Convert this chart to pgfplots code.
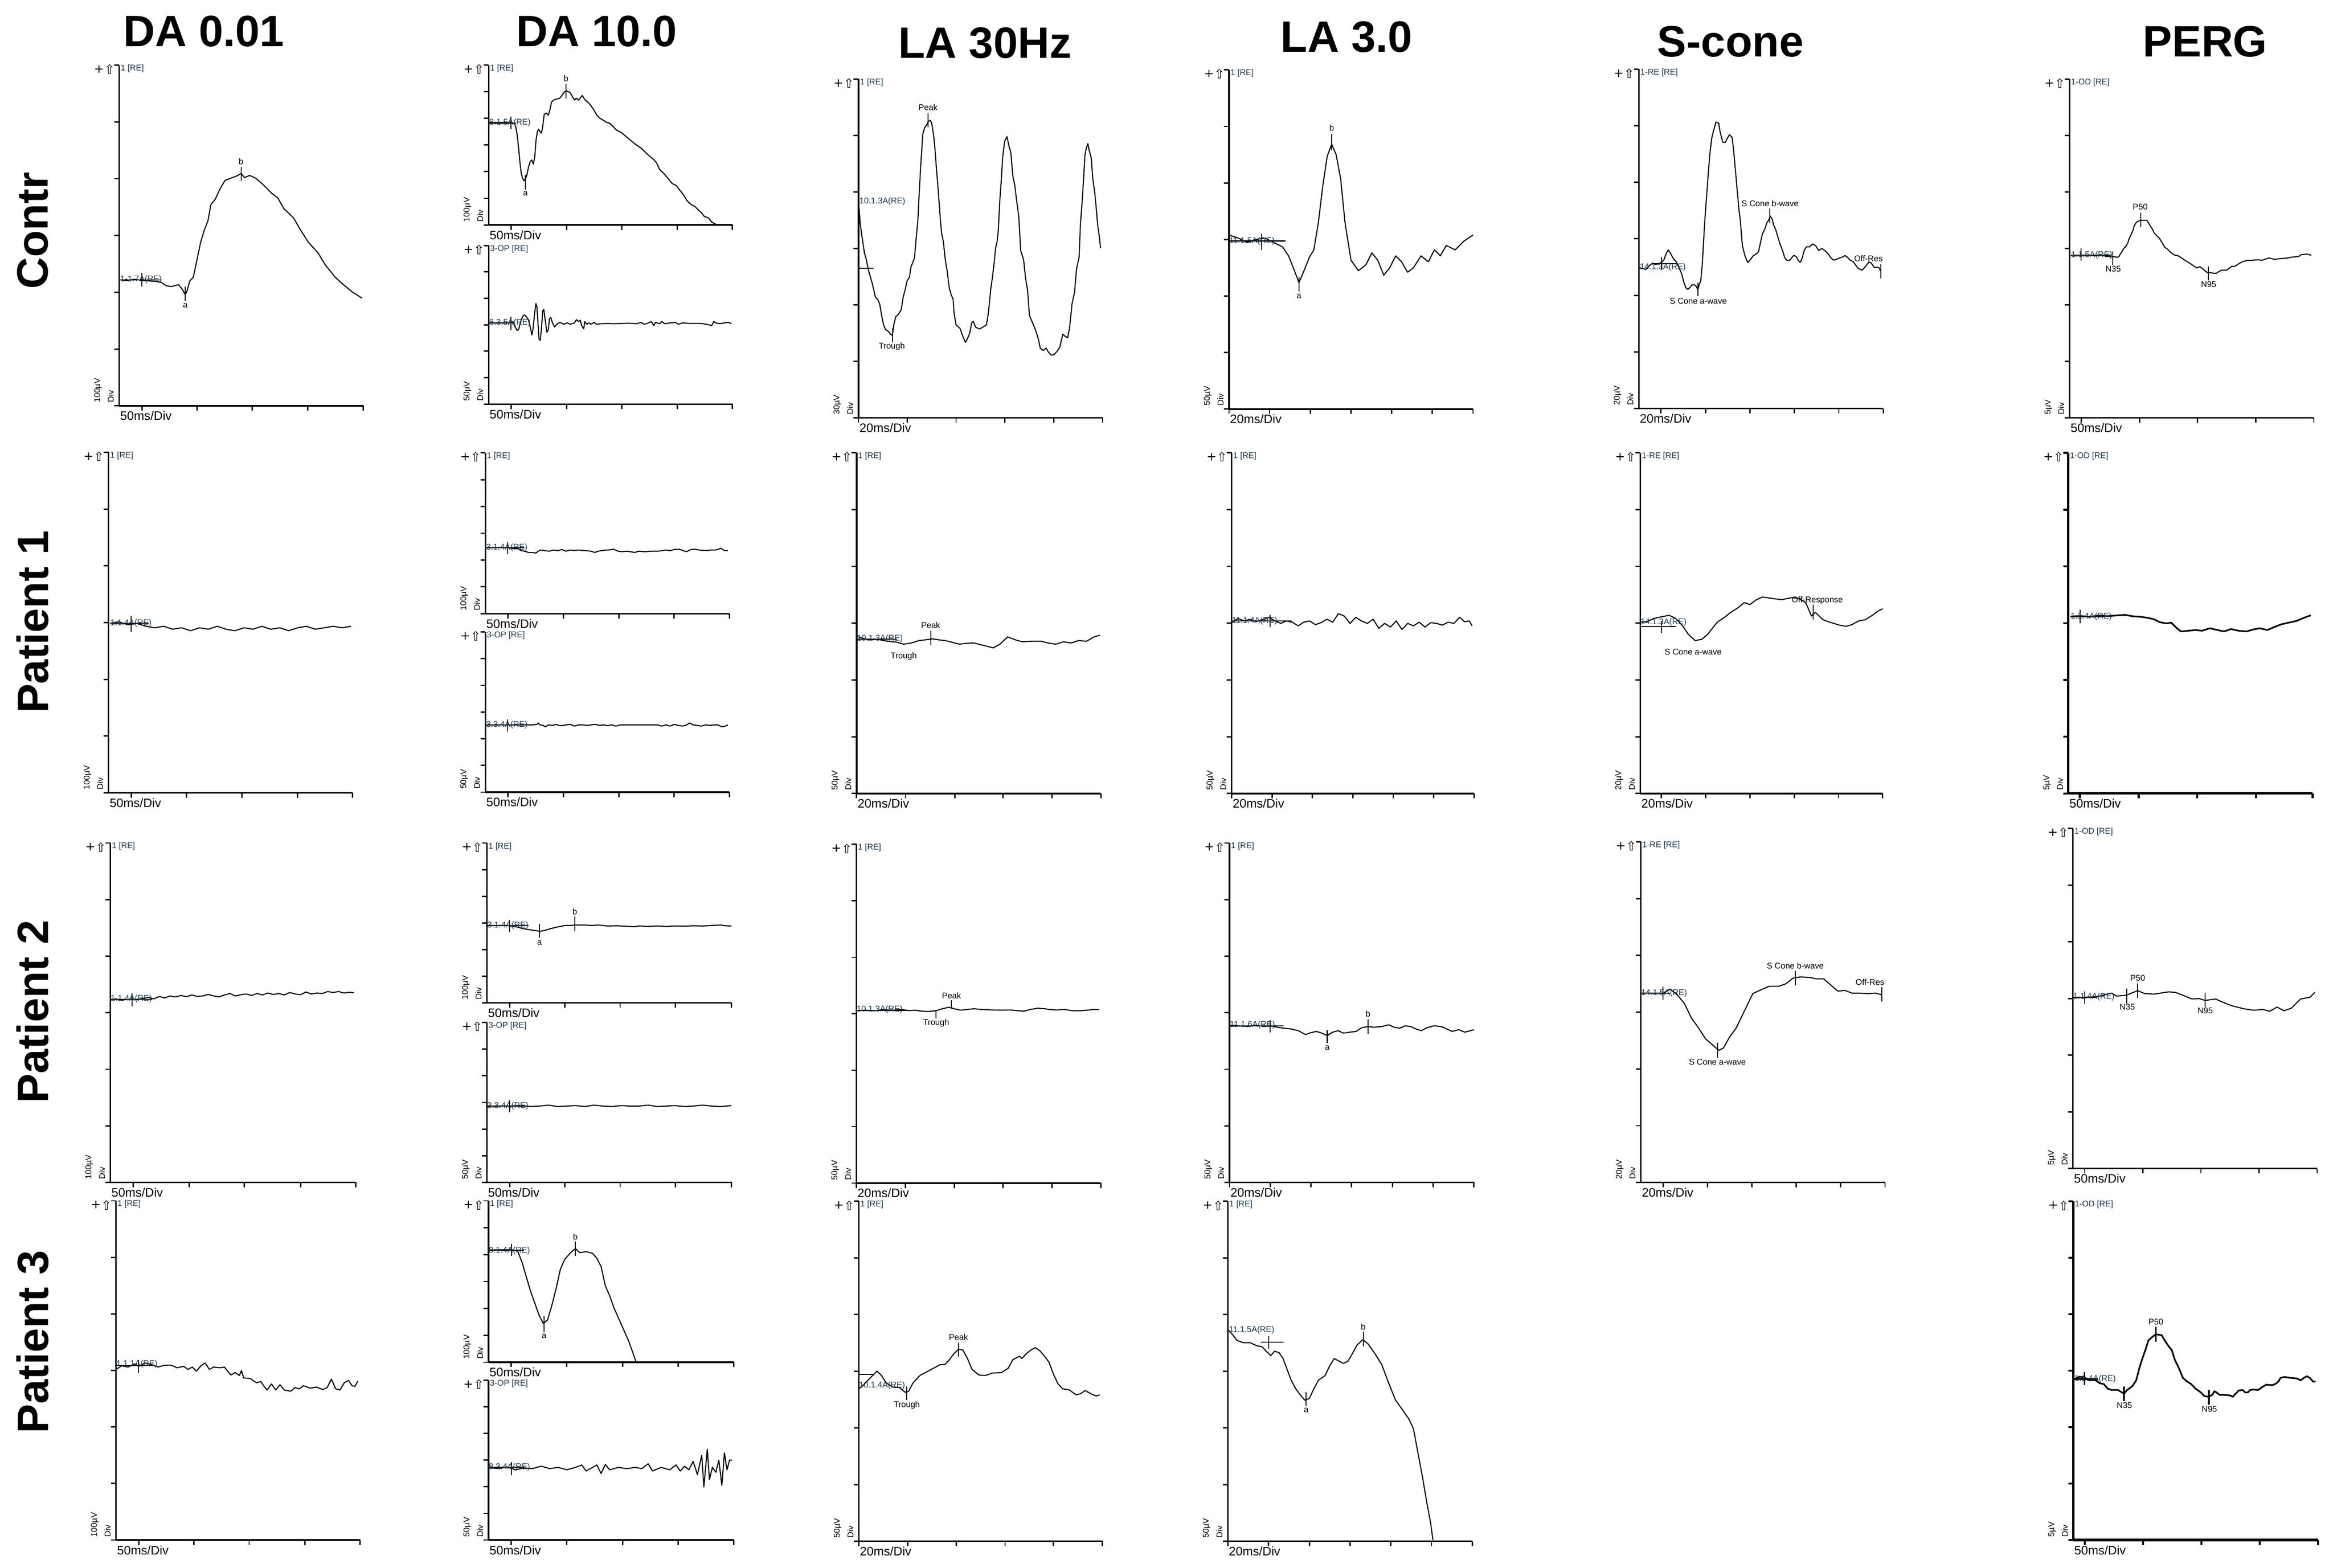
\documentclass[border=0pt]{standalone}
\usepackage{fontspec}
\setmainfont{Liberation Sans}
\newfontfamily\symf{DejaVu Sans}
\usepackage{pgfplots}
\pgfplotsset{compat=1.18}

% font sizes (1bp = one pixel of the 1568 px wide layout)
\newcommand\hf{\fontsize{5.6bp}{6.7bp}\selectfont}
\newcommand\df{\fontsize{8.3bp}{10bp}\selectfont}
\newcommand\tf{\fontsize{29.5bp}{32bp}\selectfont\bfseries}
\definecolor{tag}{HTML}{17364D}

\tikzset{
  lab/.style={font=\hf, inner sep=0pt, text=black},
  tagl/.style={font=\hf, inner sep=0pt, text=tag},
}
\pgfplotsset{
  erg/.style={scale only axis, anchor=south west, enlargelimits=false, clip=false,
    axis x line*=bottom, axis y line*=left, axis line style={-, line width=1.05bp},
    tick align=outside, major tick length=3.3bp, tick style={line width=0.9bp, black},
    xticklabel=\empty, yticklabel=\empty, scaled ticks=false},
  bold/.style={axis line style={-, line width=1.6bp}, tick style={line width=1.4bp, black}},
  tr/.style={black, line width=0.72bp, mark=none, line join=round},
  trb/.style={black, line width=1.1bp, mark=none, line join=round},
  mk/.style={black, line width=0.65bp, mark=none},
}

% header, unit labels and time base of one trace panel
\newcommand{\ergdeco}[3]{%
  \node[tagl, anchor=west, xshift=0.8bp, yshift=-2.3bp] at (rel axis cs:0,1) {#1};
  \node[font={\symf\fontsize{8bp}{9bp}\selectfont}, inner sep=0pt, xshift=-13.5bp, yshift=-2.8bp] at (rel axis cs:0,1) {+};
  \node[font={\symf\fontsize{8.5bp}{9bp}\selectfont}, inner sep=0pt, xshift=-6.5bp, yshift=-2.8bp] at (rel axis cs:0,1) {⇧};
  \node[lab, xshift=-11.5bp, yshift=2bp, rotate=90, anchor=south west] at (rel axis cs:0,0) {#2};
  \node[lab, xshift=-3.5bp, yshift=2bp, rotate=90, anchor=south west] at (rel axis cs:0,0) {Div};
  \node[font=\df, inner sep=0pt, anchor=north west, xshift=0.5bp, yshift=-3.5bp] at (rel axis cs:0,0) {#3};
}

\begin{document}
\begin{tikzpicture}[x=1bp, y=1bp]
\useasboundingbox (0,0) rectangle (1568,1054);

% column and row titles
\node[font=\tf] at (137,1033) {DA 0.01};
\node[font=\tf] at (401,1033) {DA 10.0};
\node[font=\tf] at (662,1025) {LA 30Hz};
\node[font=\tf] at (905,1029) {LA 3.0};
\node[font=\tf] at (1163,1026) {S-cone};
\node[font=\tf] at (1482,1026) {PERG};
\node[font=\tf, rotate=90] at (22,899) {Contr};
\node[font=\tf, rotate=90] at (22,636) {Patient 1};
\node[font=\tf, rotate=90] at (22,374) {Patient 2};
\node[font=\tf, rotate=90] at (22,152) {Patient 3};

% ================= Contr =================
\begin{axis}[erg, at={(80.1bp,781.2bp)}, width=164.1bp, height=229bp,
  xmin=487, xmax=1485, ymin=-1508, ymax=-242,
  xtick={580,806,1030,1258,1485}, ytick={-1508,-1297,-1086,-875,-664,-453,-242}]
\addplot[tr] coordinates {(490,-1040)(520,-1042)(550,-1038)(580,-1042)(610,-1044)(640,-1046)(660,-1050)(680,-1062)(700,-1065)(720,-1060)(730,-1058)(745,-1075)(757,-1095)(765,-1080)(775,-1045)(790,-1030)(805,-965)(820,-900)(835,-855)(850,-820)(862,-760)(880,-740)(900,-700)(920,-670)(935,-665)(950,-660)(965,-655)(985,-645)(1000,-660)(1020,-652)(1045,-662)(1080,-690)(1110,-718)(1135,-735)(1160,-775)(1200,-810)(1225,-850)(1260,-900)(1300,-940)(1330,-985)(1370,-1030)(1400,-1055)(1440,-1085)(1480,-1108)};
\addplot[mk] coordinates {(490,-1040)(660,-1040)};
\addplot[mk] coordinates {(580,-1015)(580,-1065)};
\addplot[mk] coordinates {(757,-1065)(757,-1118)};
\addplot[mk] coordinates {(985,-620)(985,-672)};
\node[lab] at (axis cs:757,-1135) {a};
\node[lab] at (axis cs:985,-600) {b};
\node[tagl, anchor=west] at (axis cs:490,-1038) {1-1.7A(RE)};
\ergdeco{1 [RE]}{100µV}{50ms/Div}
\end{axis}

\begin{axis}[erg, at={(328.4bp,902.8bp)}, width=163.9bp, height=107.4bp,
  xmin=228, xmax=1400, ymin=-836, ymax=-242,
  xtick={337,603,868,1134,1400}, ytick={-836,-737,-638,-539,-440,-341,-242}]
\addplot[tr] coordinates {(230,-455)(260,-455)(300,-455)(335,-455)(350,-458)(358,-470)(365,-500)(372,-550)(378,-600)(384,-640)(390,-660)(398,-672)(405,-665)(412,-650)(420,-620)(428,-600)(435,-595)(443,-610)(450,-580)(456,-520)(462,-490)(468,-480)(475,-490)(482,-495)(488,-470)(495,-425)(505,-420)(515,-428)(522,-410)(530,-380)(540,-372)(555,-368)(570,-365)(580,-355)(590,-343)(600,-338)(610,-340)(620,-345)(630,-358)(640,-372)(650,-365)(660,-372)(668,-365)(678,-355)(690,-370)(705,-380)(720,-393)(735,-410)(748,-428)(760,-438)(775,-445)(795,-455)(810,-458)(825,-470)(845,-485)(865,-492)(885,-505)(900,-515)(920,-528)(940,-540)(960,-550)(980,-565)(1000,-580)(1020,-592)(1035,-605)(1050,-630)(1070,-645)(1090,-663)(1110,-682)(1130,-690)(1150,-710)(1170,-730)(1180,-745)(1200,-760)(1220,-768)(1235,-780)(1250,-790)(1265,-805)(1285,-810)(1300,-825)(1315,-832)(1335,-838)};
\addplot[mk] coordinates {(335,-433)(335,-480)};
\addplot[mk] coordinates {(230,-458)(360,-458)};
\addplot[mk] coordinates {(405,-650)(405,-705)};
\addplot[mk] coordinates {(600,-312)(600,-366)};
\node[lab] at (axis cs:405,-720) {a};
\node[lab] at (axis cs:600,-292) {b};
\node[tagl, anchor=west] at (axis cs:230,-456) {8.1.5A(RE)};
\ergdeco{1 [RE]}{100µV}{50ms/Div}
\end{axis}

\begin{axis}[erg, at={(328.4bp,782.3bp)}, width=163.9bp, height=106.7bp,
  xmin=228, xmax=1400, ymin=-1502, ymax=-912,
  xtick={337,603,868,1134,1400}, ytick={-1502,-1403.7,-1305.3,-1207,-1108.7,-1010.3,-912}]
\addplot[tr] coordinates {(230,-1200)(270,-1200)(300,-1200)(320,-1200)(335,-1200)(345,-1195)(355,-1215)(365,-1228)(372,-1225)(382,-1195)(392,-1175)(400,-1170)(410,-1178)(420,-1190)(428,-1215)(436,-1245)(442,-1220)(448,-1170)(455,-1128)(460,-1140)(466,-1210)(470,-1260)(476,-1265)(482,-1220)(488,-1155)(493,-1150)(500,-1190)(508,-1235)(515,-1225)(520,-1185)(527,-1180)(535,-1200)(545,-1215)(555,-1205)(570,-1198)(590,-1205)(605,-1200)(620,-1205)(640,-1200)(650,-1188)(660,-1195)(668,-1190)(675,-1210)(685,-1222)(690,-1195)(700,-1205)(710,-1200)(720,-1205)(735,-1198)(745,-1205)(770,-1203)(800,-1202)(830,-1203)(870,-1202)(900,-1201)(940,-1203)(960,-1198)(975,-1205)(990,-1202)(1010,-1195)(1022,-1210)(1030,-1198)(1050,-1203)(1060,-1195)(1075,-1203)(1100,-1200)(1125,-1198)(1140,-1205)(1160,-1200)(1200,-1202)(1250,-1202)(1275,-1205)(1300,-1210)(1310,-1195)(1320,-1200)(1340,-1203)(1360,-1200)(1380,-1198)(1395,-1202)};
\addplot[mk] coordinates {(335,-1178)(335,-1228)};
\addplot[mk] coordinates {(230,-1200)(330,-1200)};
\node[tagl, anchor=west] at (axis cs:230,-1200) {8.3.5A(RE)};
\ergdeco{3-OP [RE]}{50µV}{50ms/Div}
\end{axis}

\begin{axis}[erg, at={(577bp,773.1bp)}, width=164bp, height=227.8bp,
  xmin=172, xmax=1418, ymin=-1550, ymax=-92,
  xtick={172,421,670,919,1169,1418}, ytick={-1550,-1307,-1064,-821,-578,-335,-92}]
\addplot[tr] coordinates {(175,-650)(180,-710)(188,-760)(195,-800)(202,-840)(212,-870)(220,-905)(228,-930)(240,-965)(250,-1000)(258,-1030)(270,-1040)(280,-1060)(290,-1110)(300,-1150)(310,-1170)(325,-1178)(335,-1190)(345,-1195)(352,-1150)(362,-1115)(375,-1105)(390,-1085)(400,-1030)(410,-1000)(420,-960)(432,-945)(440,-900)(450,-880)(458,-860)(465,-790)(475,-700)(482,-580)(490,-460)(500,-330)(510,-300)(520,-290)(528,-275)(538,-270)(545,-280)(555,-330)(562,-390)(570,-480)(578,-560)(585,-640)(590,-700)(597,-760)(605,-790)(615,-870)(625,-920)(635,-990)(645,-1020)(655,-1040)(660,-1100)(670,-1150)(690,-1165)(705,-1200)(718,-1225)(728,-1210)(740,-1185)(750,-1140)(758,-1135)(770,-1160)(790,-1168)(810,-1158)(825,-1150)(835,-1100)(848,-990)(855,-950)(865,-880)(872,-820)(880,-790)(886,-740)(893,-620)(900,-540)(908,-430)(918,-360)(930,-340)(940,-380)(950,-410)(960,-510)(970,-550)(980,-620)(990,-680)(1000,-830)(1015,-870)(1025,-950)(1035,-1000)(1045,-1110)(1060,-1140)(1075,-1170)(1090,-1210)(1100,-1250)(1115,-1260)(1130,-1250)(1140,-1265)(1155,-1280)(1170,-1278)(1185,-1265)(1200,-1245)(1215,-1190)(1228,-1200)(1240,-1205)(1250,-1160)(1262,-1060)(1275,-1010)(1285,-910)(1298,-860)(1305,-720)(1312,-640)(1320,-540)(1328,-420)(1335,-390)(1343,-370)(1350,-400)(1360,-430)(1368,-520)(1378,-580)(1385,-640)(1393,-720)(1400,-760)(1408,-820)};
\addplot[mk] coordinates {(175,-906)(248,-906)};
\addplot[mk] coordinates {(527,-240)(527,-300)};
\addplot[mk] coordinates {(345,-1165)(345,-1225)};
\node[lab] at (axis cs:527,-215) {Peak};
\node[lab] at (axis cs:342,-1243) {Trough};
\node[tagl, anchor=west] at (axis cs:175,-620) {10.1.3A(RE)};
\ergdeco{1 [RE]}{30µV}{20ms/Div}
\end{axis}

\begin{axis}[erg, at={(826bp,779bp)}, width=164bp, height=228bp,
  xmin=826, xmax=990, ymin=-275, ymax=-47,
  xtick={826,853.3,880.7,908,935.3,962.7,990}, ytick={-275,-237,-199,-161,-123,-85,-47}]
\addplot[tr] coordinates {(826,-158)(832,-160)(838,-163)(844,-161)(850,-160)(856,-163)(862,-166)(866,-172)(870,-182)(873,-190)(876,-183)(880,-173)(883,-168)(886,-150)(889,-125)(892,-105)(895,-97)(898,-104)(901,-120)(904,-150)(908,-175)(913,-182)(918,-178)(922,-170)(926,-175)(930,-185)(934,-180)(938,-172)(942,-176)(946,-183)(950,-180)(955,-172)(960,-176)(964,-168)(968,-172)(972,-165)(978,-168)(984,-162)(990,-158)};
\addplot[mk] coordinates {(826,-162)(864,-162)};
\addplot[mk] coordinates {(848,-157)(848,-168)};
\addplot[mk] coordinates {(873,-186)(873,-196)};
\addplot[mk] coordinates {(895,-90)(895,-101)};
\node[lab] at (axis cs:873,-199) {a};
\node[lab] at (axis cs:895,-86) {b};
\node[tagl, anchor=west] at (axis cs:826,-162) {11.1.5A(RE)};
\ergdeco{1 [RE]}{50µV}{20ms/Div}
\end{axis}

\begin{axis}[erg, at={(1101.4bp,779.4bp)}, width=164.4bp, height=228.1bp,
  xmin=224, xmax=1400, ymin=-1510, ymax=-50,
  xtick={331,545,759,972,1186,1400}, ytick={-1510,-1266.7,-1023.3,-780,-536.7,-293.3,-50}]
\addplot[tr] coordinates {(228,-905)(245,-908)(258,-912)(275,-895)(290,-885)(305,-890)(320,-888)(335,-880)(345,-870)(355,-845)(365,-828)(375,-840)(390,-865)(405,-880)(420,-910)(430,-930)(440,-965)(450,-990)(460,-998)(470,-990)(480,-978)(492,-978)(500,-985)(508,-998)(515,-975)(522,-960)(530,-880)(540,-720)(548,-620)(558,-500)(565,-420)(575,-345)(585,-310)(595,-278)(608,-282)(615,-320)(628,-365)(640,-365)(648,-350)(660,-332)(673,-345)(680,-400)(688,-480)(695,-550)(705,-650)(712,-700)(722,-810)(735,-855)(748,-882)(760,-870)(775,-852)(790,-845)(800,-835)(808,-800)(818,-760)(830,-738)(840,-710)(848,-700)(856,-682)(865,-695)(872,-720)(882,-740)(892,-770)(902,-800)(915,-830)(925,-860)(935,-872)(950,-872)(968,-852)(980,-855)(990,-872)(1000,-882)(1010,-862)(1020,-828)(1030,-815)(1045,-815)(1060,-802)(1075,-810)(1088,-830)(1105,-822)(1120,-832)(1135,-845)(1148,-862)(1160,-872)(1175,-868)(1190,-862)(1205,-858)(1215,-852)(1228,-860)(1240,-872)(1255,-878)(1268,-895)(1280,-908)(1298,-915)(1315,-898)(1330,-880)(1340,-883)(1355,-902)(1370,-902)(1380,-905)(1385,-918)};
\addplot[mk] coordinates {(333,-858)(333,-915)};
\addplot[mk] coordinates {(298,-886)(405,-886)};
\addplot[mk] coordinates {(508,-968)(508,-1028)};
\addplot[mk] coordinates {(853,-650)(853,-712)};
\addplot[mk] coordinates {(1387,-888)(1387,-950)};
\node[lab] at (axis cs:510,-1047) {S Cone a-wave};
\node[lab] at (axis cs:855,-628) {S Cone b-wave};
\node[lab] at (axis cs:1328,-865) {Off-Res};
\node[tagl, anchor=west] at (axis cs:228,-903) {14.1.3A(RE)};
\ergdeco{1-RE [RE]}{20µV}{20ms/Div}
\end{axis}

\begin{axis}[erg, at={(1390.9bp,773.1bp)}, width=164.2bp, height=227.8bp,
  xmin=272, xmax=1475, ymin=-1550, ymax=-92,
  xtick={329,616,902,1189,1475}, ytick={-1550,-1307,-1064,-821,-578,-335,-92}]
\addplot[tr] coordinates {(278,-850)(300,-850)(330,-850)(360,-850)(400,-852)(430,-850)(460,-855)(480,-858)(495,-856)(505,-860)(515,-856)(520,-848)(530,-835)(540,-820)(550,-812)(560,-795)(565,-780)(575,-762)(585,-742)(590,-725)(598,-712)(608,-705)(620,-700)(635,-700)(652,-700)(660,-710)(670,-725)(680,-738)(690,-756)(700,-765)(715,-778)(730,-800)(740,-815)(755,-825)(775,-842)(790,-850)(805,-852)(820,-860)(840,-872)(855,-880)(870,-888)(885,-898)(898,-905)(910,-900)(920,-903)(930,-910)(940,-918)(950,-925)(965,-925)(980,-928)(995,-928)(1005,-922)(1020,-915)(1045,-915)(1060,-905)(1070,-898)(1085,-898)(1100,-890)(1115,-882)(1125,-878)(1145,-873)(1170,-872)(1200,-870)(1220,-872)(1240,-866)(1255,-862)(1280,-868)(1310,-865)(1340,-863)(1370,-858)(1400,-856)(1412,-848)(1425,-847)(1440,-845)(1450,-848)(1462,-850)};
\addplot[mk] coordinates {(328,-820)(328,-875)};
\addplot[mk] coordinates {(278,-850)(480,-850)};
\addplot[mk] coordinates {(485,-835)(485,-893)};
\addplot[mk] coordinates {(622,-668)(622,-730)};
\addplot[mk] coordinates {(955,-898)(955,-958)};
\node[lab] at (axis cs:487,-910) {N35};
\node[lab] at (axis cs:620,-643) {P50};
\node[lab] at (axis cs:957,-975) {N95};
\node[tagl, anchor=west] at (axis cs:278,-850) {1.1.5A(RE)};
\ergdeco{1-OD [RE]}{5µV}{50ms/Div}
\end{axis}

% ================= Patient 1 =================
\begin{axis}[erg, at={(73bp,521bp)}, width=164bp, height=229bp,
  xmin=73, xmax=237, ymin=-533, ymax=-304,
  xtick={88.25,125.4,162.6,199.8,237}, ytick={-533,-494.8,-456.7,-418.5,-380.3,-342.2,-304}]
\addplot[tr] coordinates {(74,-419)(80,-418)(86,-420)(92,-419)(98,-421)(104,-422)(110,-421)(116,-423)(122,-422)(128,-424)(134,-422)(140,-423)(146,-421)(152,-423)(158,-424)(164,-422)(170,-423)(176,-421)(182,-423)(188,-422)(194,-424)(200,-422)(206,-421)(212,-423)(218,-422)(224,-421)(230,-422)(236,-421)};
\addplot[mk] coordinates {(88,-414)(88,-425)};
\addplot[mk] coordinates {(74,-419)(100,-419)};
\node[tagl, anchor=west] at (axis cs:74,-419) {1.1.4A(RE)};
\ergdeco{1 [RE]}{100µV}{50ms/Div}
\end{axis}

\begin{axis}[erg, at={(326.2bp,641.5bp)}, width=164.1bp, height=108.1bp,
  xmin=212, xmax=1386, ymin=-705, ymax=-48,
  xtick={321,588,854,1120,1386}, ytick={-705,-595.5,-486,-376.5,-267,-157.5,-48}]
\addplot[tr] coordinates {(215,-435)(260,-435)(320,-435)(350,-440)(370,-440)(385,-448)(400,-450)(420,-455)(440,-455)(455,-458)(465,-450)(480,-445)(500,-448)(520,-450)(540,-445)(560,-448)(580,-443)(600,-450)(620,-445)(640,-447)(660,-445)(680,-447)(700,-448)(720,-450)(738,-455)(755,-450)(775,-447)(800,-445)(830,-442)(850,-450)(870,-452)(890,-450)(910,-452)(930,-455)(950,-450)(980,-452)(1010,-450)(1040,-450)(1060,-448)(1080,-445)(1100,-448)(1120,-443)(1145,-442)(1165,-448)(1180,-452)(1200,-443)(1220,-442)(1240,-445)(1260,-447)(1280,-447)(1300,-445)(1320,-445)(1345,-438)(1360,-447)(1378,-448)};
\addplot[mk] coordinates {(320,-410)(320,-462)};
\addplot[mk] coordinates {(215,-435)(400,-435)};
\node[tagl, anchor=west] at (axis cs:215,-435) {3.1.4A(RE)};
\ergdeco{1 [RE]}{100µV}{50ms/Div}
\end{axis}

\begin{axis}[erg, at={(326.2bp,521.5bp)}, width=164.1bp, height=107.7bp,
  xmin=212, xmax=1386, ymin=-1435, ymax=-780,
  xtick={321,588,854,1120,1386}, ytick={-1435,-1325.8,-1216.7,-1107.5,-998.3,-889.2,-780}]
\addplot[tr] coordinates {(215,-1160)(260,-1160)(320,-1160)(350,-1160)(380,-1160)(420,-1160)(440,-1160)(460,-1158)(465,-1152)(475,-1160)(490,-1162)(500,-1168)(515,-1160)(535,-1162)(550,-1158)(565,-1162)(580,-1163)(600,-1160)(620,-1158)(640,-1165)(660,-1160)(680,-1160)(700,-1162)(720,-1160)(740,-1158)(760,-1162)(780,-1160)(800,-1163)(820,-1160)(840,-1165)(860,-1160)(900,-1160)(950,-1160)(1000,-1160)(1040,-1160)(1060,-1165)(1080,-1160)(1100,-1165)(1120,-1158)(1140,-1162)(1160,-1165)(1180,-1160)(1195,-1152)(1210,-1160)(1230,-1162)(1250,-1165)(1270,-1160)(1290,-1162)(1310,-1160)(1330,-1160)(1350,-1168)(1365,-1165)(1378,-1160)};
\addplot[mk] coordinates {(320,-1138)(320,-1188)};
\addplot[mk] coordinates {(215,-1160)(400,-1160)};
\node[tagl, anchor=west] at (axis cs:215,-1160) {3.3.4A(RE)};
\ergdeco{3-OP [RE]}{50µV}{50ms/Div}
\end{axis}

\begin{axis}[erg, at={(575.7bp,520.6bp)}, width=164.2bp, height=229bp,
  xmin=33, xmax=287, ymin=-1440, ymax=-48,
  xtick={33,84,135,185,236,287}, ytick={-1440,-1208,-976,-744,-512,-280,-48}]
\addplot[tr] coordinates {(35,-800)(45,-812)(55,-810)(65,-818)(75,-822)(82,-830)(90,-825)(98,-815)(105,-812)(112,-808)(118,-812)(125,-815)(132,-822)(140,-830)(148,-826)(155,-825)(162,-832)(168,-838)(175,-845)(182,-830)(190,-800)(198,-812)(205,-820)(215,-818)(225,-818)(232,-825)(240,-830)(248,-820)(256,-825)(264,-815)(272,-818)(280,-800)(286,-793)};
\addplot[mk] coordinates {(33,-810)(75,-810)};
\addplot[mk] coordinates {(110,-775)(110,-832)};
\node[lab] at (axis cs:110,-752) {Peak};
\node[lab] at (axis cs:82,-880) {Trough};
\node[tagl, anchor=west] at (axis cs:33,-808) {10.1.3A(RE)};
\ergdeco{1 [RE]}{50µV}{20ms/Div}
\end{axis}

\begin{axis}[erg, at={(827.8bp,520.6bp)}, width=162.9bp, height=229bp,
  xmin=423, xmax=675, ymin=-1440, ymax=-48,
  xtick={423,465,507,549,591,633,675}, ytick={-1440,-1208,-976,-744,-512,-280,-48}]
\addplot[tr] coordinates {(423,-740)(430,-725)(436,-735)(442,-728)(448,-738)(455,-730)(462,-720)(468,-735)(474,-745)(480,-735)(486,-740)(492,-755)(498,-740)(504,-735)(510,-750)(516,-742)(522,-728)(528,-740)(534,-705)(540,-715)(546,-745)(552,-720)(558,-735)(564,-745)(570,-728)(576,-765)(582,-745)(588,-760)(594,-735)(600,-770)(606,-745)(612,-755)(618,-740)(624,-760)(630,-742)(636,-745)(642,-752)(648,-740)(654,-745)(660,-720)(665,-738)(670,-735)(673,-755)};
\addplot[mk] coordinates {(463,-710)(463,-760)};
\addplot[mk] coordinates {(423,-735)(485,-735)};
\node[tagl, anchor=west] at (axis cs:423,-735) {11.1.4A(RE)};
\ergdeco{1 [RE]}{50µV}{20ms/Div}
\end{axis}

\begin{axis}[erg, at={(1102.4bp,520.6bp)}, width=162.9bp, height=229bp,
  xmin=848, xmax=1100, ymin=-1440, ymax=-48,
  xtick={870,916,962,1008,1054,1100}, ytick={-1440,-1208,-976,-744,-512,-280,-48}]
\addplot[tr] coordinates {(848,-740)(855,-738)(862,-725)(870,-718)(878,-712)(885,-725)(892,-755)(898,-790)(905,-815)(912,-810)(918,-790)(922,-770)(928,-740)(935,-722)(942,-700)(950,-680)(956,-660)(962,-668)(968,-650)(975,-637)(985,-643)(995,-648)(1005,-640)(1012,-642)(1020,-660)(1026,-715)(1030,-700)(1038,-730)(1045,-740)(1055,-752)(1062,-757)(1068,-750)(1075,-735)(1082,-730)(1090,-710)(1095,-695)(1100,-685)};
\addplot[mk] coordinates {(870,-735)(870,-785)};
\addplot[mk] coordinates {(848,-757)(885,-757)};
\addplot[mk] coordinates {(1028,-668)(1028,-730)};
\node[lab] at (axis cs:903,-862) {S Cone a-wave};
\node[lab] at (axis cs:1032,-650) {Off-Response};
\node[tagl, anchor=west] at (axis cs:848,-740) {14.1.3A(RE)};
\ergdeco{1-RE [RE]}{20µV}{20ms/Div}
\end{axis}

\begin{axis}[erg, bold, at={(1390.1bp,520.6bp)}, width=164.2bp, height=229bp,
  xmin=1293, xmax=1547, ymin=-1440, ymax=-48,
  xtick={1305,1366,1427,1488,1547}, ytick={-1440,-1208,-976,-744,-512,-280,-48}]
\addplot[trb] coordinates {(1295,-717)(1305,-715)(1315,-718)(1325,-713)(1335,-715)(1345,-712)(1352,-710)(1360,-716)(1368,-718)(1375,-722)(1382,-728)(1388,-740)(1395,-745)(1400,-742)(1405,-762)(1410,-778)(1418,-775)(1425,-772)(1432,-775)(1440,-765)(1448,-772)(1455,-778)(1462,-768)(1470,-775)(1478,-778)(1485,-770)(1492,-765)(1500,-772)(1507,-760)(1515,-748)(1522,-742)(1530,-735)(1538,-722)(1545,-712)};
\addplot[mk] coordinates {(1305,-690)(1305,-745)};
\addplot[mk] coordinates {(1295,-717)(1330,-717)};
\node[tagl, anchor=west] at (axis cs:1295,-717) {1.1.4A(RE)};
\ergdeco{1-OD [RE]}{5µV}{50ms/Div}
\end{axis}

% ================= Patient 2 =================
\begin{axis}[erg, at={(74.2bp,259.2bp)}, width=164.9bp, height=228.1bp,
  xmin=16, xmax=287, ymin=-1462, ymax=-75,
  xtick={41,103,164,226,287}, ytick={-1462,-1230.8,-999.7,-768.5,-537.3,-306.2,-75}]
\addplot[tr] coordinates {(16,-715)(22,-712)(28,-718)(34,-714)(40,-712)(46,-716)(52,-710)(58,-706)(64,-712)(70,-702)(76,-708)(82,-700)(88,-704)(94,-698)(100,-703)(106,-696)(112,-702)(118,-700)(124,-694)(130,-700)(136,-704)(142,-696)(148,-690)(154,-700)(160,-695)(166,-692)(172,-698)(178,-690)(184,-696)(190,-688)(196,-694)(202,-690)(208,-696)(214,-686)(220,-692)(226,-695)(232,-684)(238,-692)(244,-688)(250,-690)(256,-682)(262,-686)(268,-682)(274,-688)(280,-685)(285,-687)};
\addplot[mk] coordinates {(40,-688)(40,-742)};
\addplot[mk] coordinates {(16,-714)(62,-714)};
\node[tagl, anchor=west] at (axis cs:16,-712) {1.1.4A(RE)};
\ergdeco{1 [RE]}{100µV}{50ms/Div}
\end{axis}

\begin{axis}[erg, at={(327.3bp,379.9bp)}, width=164.3bp, height=107.4bp,
  xmin=432, xmax=702, ymin=-728, ymax=-75,
  xtick={457,518,579,640,702}, ytick={-728,-619.2,-510.3,-401.5,-292.7,-183.8,-75}]
\addplot[tr] coordinates {(432,-412)(445,-412)(457,-412)(465,-418)(472,-425)(480,-430)(486,-433)(490,-436)(496,-432)(502,-425)(510,-418)(518,-412)(525,-412)(530,-410)(540,-410)(548,-412)(555,-410)(565,-414)(575,-413)(585,-415)(595,-417)(600,-414)(610,-416)(620,-414)(630,-416)(640,-414)(650,-415)(660,-413)(670,-414)(680,-412)(690,-410)(695,-413)(702,-414)};
\addplot[mk] coordinates {(457,-390)(457,-440)};
\addplot[mk] coordinates {(432,-412)(478,-412)};
\addplot[mk] coordinates {(490,-405)(490,-462)};
\addplot[mk] coordinates {(529,-375)(529,-435)};
\node[lab] at (axis cs:490,-483) {a};
\node[lab] at (axis cs:529,-355) {b};
\node[tagl, anchor=west] at (axis cs:432,-412) {3.1.4A(RE)};
\ergdeco{1 [RE]}{100µV}{50ms/Div}
\end{axis}

\begin{axis}[erg, at={(327.3bp,259.2bp)}, width=164.3bp, height=107.5bp,
  xmin=432, xmax=702, ymin=-1462, ymax=-808,
  xtick={457,518,579,640,702}, ytick={-1462,-1353,-1244,-1135,-1026,-917,-808}]
\addplot[tr] coordinates {(432,-1150)(445,-1150)(457,-1150)(470,-1148)(480,-1152)(490,-1150)(500,-1146)(510,-1152)(520,-1150)(530,-1148)(540,-1152)(550,-1146)(560,-1150)(570,-1152)(580,-1148)(590,-1150)(600,-1150)(610,-1146)(620,-1152)(630,-1150)(640,-1148)(650,-1152)(660,-1150)(670,-1146)(680,-1150)(690,-1152)(702,-1148)};
\addplot[mk] coordinates {(457,-1125)(457,-1175)};
\addplot[mk] coordinates {(432,-1150)(478,-1150)};
\node[tagl, anchor=west] at (axis cs:432,-1150) {3.3.4A(RE)};
\ergdeco{3-OP [RE]}{50µV}{50ms/Div}
\end{axis}

\begin{axis}[erg, at={(575.6bp,258.7bp)}, width=164.3bp, height=227.7bp,
  xmin=840, xmax=1110, ymin=-1465, ymax=-80,
  xtick={840,894,948,1002,1056,1110}, ytick={-1465,-1234.2,-1003.3,-772.5,-541.7,-310.8,-80}]
\addplot[tr] coordinates {(840,-760)(850,-758)(860,-760)(870,-756)(880,-758)(890,-755)(898,-760)(905,-758)(912,-762)(920,-763)(928,-760)(935,-752)(942,-746)(948,-752)(955,-758)(962,-755)(970,-752)(978,-755)(990,-757)(1000,-758)(1010,-757)(1018,-760)(1025,-762)(1032,-755)(1040,-750)(1048,-752)(1055,-756)(1062,-757)(1070,-755)(1078,-760)(1088,-760)(1095,-758)(1102,-755)(1108,-756)};
\addplot[mk] coordinates {(840,-760)(900,-760)};
\addplot[mk] coordinates {(945,-718)(945,-752)};
\addplot[mk] coordinates {(928,-760)(928,-792)};
\node[lab] at (axis cs:945,-698) {Peak};
\node[lab] at (axis cs:928,-810) {Trough};
\node[tagl, anchor=west] at (axis cs:840,-755) {10.1.3A(RE)};
\ergdeco{1 [RE]}{50µV}{20ms/Div}
\end{axis}

\begin{axis}[erg, at={(826.3bp,259.2bp)}, width=164.3bp, height=228.1bp,
  xmin=1252, xmax=1522, ymin=-1462, ymax=-75,
  xtick={1252,1297,1342,1387,1432,1477,1522}, ytick={-1462,-1230.8,-999.7,-768.5,-537.3,-306.2,-75}]
\addplot[tr] coordinates {(1252,-820)(1262,-822)(1272,-825)(1282,-820)(1290,-825)(1298,-822)(1305,-828)(1312,-832)(1320,-835)(1328,-842)(1336,-858)(1342,-850)(1348,-845)(1354,-852)(1360,-862)(1366,-848)(1372,-842)(1378,-852)(1385,-848)(1392,-845)(1398,-830)(1405,-825)(1412,-828)(1420,-825)(1428,-818)(1434,-828)(1440,-832)(1446,-822)(1452,-825)(1458,-835)(1464,-842)(1470,-830)(1478,-822)(1486,-825)(1492,-835)(1498,-845)(1505,-838)(1512,-848)(1518,-842)(1522,-838)};
\addplot[mk] coordinates {(1252,-822)(1312,-822)};
\addplot[mk] coordinates {(1297,-800)(1297,-850)};
\addplot[mk] coordinates {(1360,-840)(1360,-893)};
\addplot[mk] coordinates {(1405,-795)(1405,-855)};
\node[lab] at (axis cs:1360,-912) {a};
\node[lab] at (axis cs:1405,-773) {b};
\node[tagl, anchor=west] at (axis cs:1252,-818) {11.1.6A(RE)};
\ergdeco{1 [RE]}{50µV}{20ms/Div}
\end{axis}

\begin{axis}[erg, at={(1102.8bp,259.1bp)}, width=164.1bp, height=229bp,
  xmin=103, xmax=620, ymin=-1462, ymax=-70,
  xtick={150,244,338,432,526,620}, ytick={-1462,-1230,-998,-766,-534,-302,-70}]
\addplot[tr] coordinates {(103,-688)(130,-688)(150,-688)(165,-672)(180,-695)(195,-730)(210,-790)(225,-830)(240,-875)(255,-900)(268,-922)(278,-912)(290,-870)(305,-830)(320,-770)(330,-730)(340,-690)(360,-672)(375,-660)(395,-660)(410,-650)(425,-627)(440,-622)(460,-624)(475,-630)(490,-630)(505,-655)(520,-680)(535,-677)(550,-688)(565,-688)(585,-690)(600,-688)(613,-695)};
\addplot[mk] coordinates {(150,-662)(150,-715)};
\addplot[mk] coordinates {(103,-688)(165,-688)};
\addplot[mk] coordinates {(265,-890)(265,-952)};
\addplot[mk] coordinates {(430,-597)(430,-657)};
\addplot[mk] coordinates {(613,-663)(613,-723)};
\node[lab] at (axis cs:265,-970) {S Cone a-wave};
\node[lab] at (axis cs:430,-577) {S Cone b-wave};
\node[lab] at (axis cs:588,-643) {Off-Res};
\node[tagl, anchor=west] at (axis cs:103,-688) {14.1.5A(RE)};
\ergdeco{1-RE [RE]}{20µV}{20ms/Div}
\end{axis}

\begin{axis}[erg, at={(1393.2bp,268.5bp)}, width=164.1bp, height=228.6bp,
  xmin=1018, xmax=1535, ymin=-1405, ymax=-15,
  xtick={1043,1166,1289,1412,1535}, ytick={-1405,-1173.3,-941.7,-710,-478.3,-246.7,-15}]
\addplot[tr] coordinates {(1020,-705)(1045,-705)(1070,-702)(1100,-688)(1110,-700)(1130,-697)(1155,-678)(1170,-690)(1190,-692)(1220,-683)(1235,-685)(1255,-700)(1270,-712)(1285,-710)(1298,-718)(1320,-712)(1335,-725)(1355,-740)(1380,-752)(1400,-758)(1420,-755)(1435,-762)(1450,-745)(1465,-760)(1480,-750)(1500,-712)(1520,-705)(1530,-685)};
\addplot[mk] coordinates {(1043,-680)(1043,-732)};
\addplot[mk] coordinates {(1018,-705)(1070,-705)};
\addplot[mk] coordinates {(1132,-670)(1132,-730)};
\addplot[mk] coordinates {(1155,-648)(1155,-708)};
\addplot[mk] coordinates {(1298,-688)(1298,-745)};
\node[lab] at (axis cs:1133,-745) {N35};
\node[lab] at (axis cs:1155,-627) {P50};
\node[lab] at (axis cs:1298,-760) {N95};
\node[tagl, anchor=west] at (axis cs:1018,-703) {1.1.4A(RE)};
\ergdeco{1-OD [RE]}{5µV}{50ms/Div}
\end{axis}

% ================= Patient 3 =================
\begin{axis}[erg, at={(78bp,18.8bp)}, width=164bp, height=228bp,
  xmin=47, xmax=617, ymin=-1450, ymax=-48,
  xtick={100,229,358,488,617}, ytick={-1450,-1216.3,-982.7,-749,-515.3,-281.7,-48}]
\addplot[tr] coordinates {(47,-745)(60,-730)(75,-735)(90,-722)(100,-732)(115,-718)(130,-725)(145,-735)(160,-728)(175,-727)(190,-738)(205,-732)(215,-745)(225,-735)(235,-752)(245,-730)(255,-718)(265,-745)(275,-735)(290,-738)(300,-735)(315,-768)(325,-758)(335,-770)(340,-750)(345,-780)(360,-782)(375,-800)(385,-795)(395,-820)(400,-830)(410,-805)(420,-830)(430,-808)(440,-830)(455,-835)(465,-820)(475,-825)(485,-812)(500,-822)(515,-818)(530,-828)(540,-820)(550,-785)(560,-825)(570,-830)(580,-800)(590,-790)(598,-812)(605,-815)(612,-792)};
\addplot[mk] coordinates {(100,-705)(100,-760)};
\addplot[mk] coordinates {(47,-728)(135,-728)};
\node[tagl, anchor=west] at (axis cs:47,-722) {1.1.1A(RE)};
\ergdeco{1 [RE]}{100µV}{50ms/Div}
\end{axis}

\begin{axis}[erg, at={(328.3bp,138.3bp)}, width=164.9bp, height=108.5bp,
  xmin=917, xmax=1490, ymin=-715, ymax=-48,
  xtick={970,1100,1230,1360,1490}, ytick={-715,-603.8,-492.7,-381.5,-270.3,-159.2,-48}]
\addplot[tr] coordinates {(917,-252)(945,-250)(970,-250)(985,-255)(995,-300)(1005,-360)(1015,-420)(1025,-470)(1035,-520)(1045,-555)(1055,-540)(1065,-480)(1075,-410)(1085,-330)(1095,-290)(1110,-260)(1120,-245)(1130,-262)(1145,-258)(1160,-265)(1170,-285)(1180,-320)(1190,-400)(1200,-440)(1210,-490)(1220,-530)(1235,-590)(1245,-630)(1255,-680)(1262,-715)};
\addplot[mk] coordinates {(970,-225)(970,-275)};
\addplot[mk] coordinates {(917,-252)(1000,-252)};
\addplot[mk] coordinates {(1047,-525)(1047,-590)};
\addplot[mk] coordinates {(1120,-215)(1120,-275)};
\node[lab] at (axis cs:1047,-607) {a};
\node[lab] at (axis cs:1120,-197) {b};
\node[tagl, anchor=west] at (axis cs:917,-255) {8.1.4A(RE)};
\ergdeco{1 [RE]}{100µV}{50ms/Div}
\end{axis}

\begin{axis}[erg, at={(328.3bp,18.8bp)}, width=164.9bp, height=107.4bp,
  xmin=917, xmax=1490, ymin=-1450, ymax=-790,
  xtick={970,1100,1230,1360,1490}, ytick={-1450,-1340,-1230,-1120,-1010,-900,-790}]
\addplot[tr] coordinates {(917,-1150)(940,-1155)(960,-1148)(980,-1160)(1000,-1152)(1020,-1155)(1040,-1145)(1060,-1155)(1080,-1150)(1100,-1160)(1120,-1150)(1135,-1140)(1145,-1165)(1160,-1150)(1170,-1140)(1180,-1175)(1190,-1138)(1200,-1160)(1220,-1150)(1240,-1155)(1260,-1150)(1275,-1155)(1290,-1135)(1300,-1165)(1320,-1150)(1340,-1160)(1355,-1140)(1365,-1165)(1375,-1145)(1385,-1160)(1395,-1125)(1405,-1180)(1415,-1100)(1420,-1230)(1428,-1075)(1433,-1200)(1440,-1150)(1448,-1170)(1455,-1120)(1462,-1225)(1468,-1090)(1474,-1160)(1480,-1120)(1486,-1120)};
\addplot[mk] coordinates {(970,-1128)(970,-1182)};
\addplot[mk] coordinates {(917,-1150)(1000,-1150)};
\node[tagl, anchor=west] at (axis cs:917,-1150) {8.3.4A(RE)};
\ergdeco{3-OP [RE]}{50µV}{50ms/Div}
\end{axis}

\begin{axis}[erg, at={(577.2bp,18bp)}, width=163.7bp, height=228.5bp,
  xmin=75, xmax=613, ymin=-1455, ymax=-50,
  xtick={75,183,290,398,505,613}, ytick={-1455,-1220.8,-986.7,-752.5,-518.3,-284.2,-50}]
\addplot[tr] coordinates {(75,-825)(85,-810)(100,-780)(115,-752)(125,-770)(135,-800)(150,-818)(165,-820)(178,-840)(185,-835)(195,-800)(210,-770)(225,-755)(240,-740)(255,-725)(265,-725)(275,-705)(285,-680)(295,-662)(305,-665)(315,-700)(325,-745)(340,-768)(355,-770)(370,-760)(390,-758)(405,-740)(415,-705)(430,-690)(435,-700)(445,-680)(455,-665)(465,-655)(475,-668)(485,-690)(495,-715)(505,-765)(515,-805)(525,-825)(540,-830)(555,-850)(565,-845)(575,-832)(590,-848)(600,-855)(607,-850)};
\addplot[mk] coordinates {(75,-765)(108,-765)};
\addplot[mk] coordinates {(181,-815)(181,-872)};
\addplot[mk] coordinates {(295,-635)(295,-692)};
\node[lab] at (axis cs:181,-892) {Trough};
\node[lab] at (axis cs:295,-612) {Peak};
\node[tagl, anchor=west] at (axis cs:75,-812) {10.1.4A(RE)};
\ergdeco{1 [RE]}{50µV}{20ms/Div}
\end{axis}

\begin{axis}[erg, at={(825.2bp,18bp)}, width=164.3bp, height=228.5bp,
  xmin=890, xmax=1430, ymin=-1455, ymax=-50,
  xtick={890,980,1070,1160,1250,1340,1430}, ytick={-1455,-1220.8,-986.7,-752.5,-518.3,-284.2,-50}]
\addplot[tr] coordinates {(890,-580)(900,-600)(910,-625)(925,-635)(940,-635)(955,-648)(965,-650)(975,-670)(985,-688)(993,-670)(1003,-675)(1012,-700)(1020,-740)(1030,-790)(1040,-825)(1050,-850)(1060,-872)(1070,-865)(1080,-825)(1090,-790)(1105,-770)(1115,-730)(1125,-700)(1135,-710)(1145,-720)(1155,-712)(1165,-680)(1175,-645)(1188,-622)(1200,-640)(1215,-680)(1230,-725)(1245,-800)(1260,-870)(1275,-910)(1290,-950)(1300,-990)(1310,-1090)(1320,-1190)(1330,-1300)(1338,-1380)(1343,-1450)};
\addplot[mk] coordinates {(963,-633)(1013,-633)};
\addplot[mk] coordinates {(980,-608)(980,-660)};
\addplot[mk] coordinates {(1063,-838)(1063,-895)};
\addplot[mk] coordinates {(1189,-590)(1189,-650)};
\node[lab] at (axis cs:1063,-913) {a};
\node[lab] at (axis cs:1189,-570) {b};
\node[tagl, anchor=west] at (axis cs:892,-583) {11.1.5A(RE)};
\ergdeco{1 [RE]}{50µV}{20ms/Div}
\end{axis}

\begin{axis}[erg, bold, at={(1393.4bp,18.8bp)}, width=164.5bp, height=227.7bp,
  xmin=290, xmax=1495, ymin=-1450, ymax=-50,
  xtick={347,634,921,1208,1495}, ytick={-1450,-1216.7,-983.3,-750,-516.7,-283.3,-50}]
\addplot[trb] coordinates {(295,-785)(320,-775)(345,-778)(370,-790)(400,-790)(420,-802)(440,-805)(460,-825)(480,-830)(510,-830)(530,-840)(540,-845)(555,-830)(580,-815)(600,-790)(615,-740)(630,-700)(645,-665)(660,-625)(680,-610)(697,-600)(725,-603)(740,-625)(760,-650)(775,-665)(790,-705)(810,-740)(830,-780)(850,-795)(870,-805)(890,-823)(915,-838)(935,-855)(955,-858)(975,-850)(985,-835)(995,-840)(1010,-850)(1030,-850)(1060,-852)(1075,-858)(1090,-845)(1105,-832)(1125,-830)(1135,-840)(1150,-840)(1160,-830)(1175,-828)(1200,-830)(1220,-818)(1240,-808)(1270,-810)(1285,-805)(1300,-795)(1310,-780)(1330,-776)(1360,-780)(1390,-782)(1410,-790)(1425,-780)(1440,-773)(1455,-780)(1470,-795)(1483,-795)};
\addplot[trb] coordinates {(295,-785)(410,-785)};
\addplot[trb] coordinates {(345,-755)(345,-810)};
\addplot[trb] coordinates {(540,-815)(540,-875)};
\addplot[trb] coordinates {(697,-568)(697,-630)};
\addplot[trb] coordinates {(958,-830)(958,-890)};
\node[lab] at (axis cs:542,-893) {N35};
\node[lab] at (axis cs:697,-548) {P50};
\node[lab] at (axis cs:960,-908) {N95};
\node[tagl, anchor=west] at (axis cs:295,-785) {1.1.4A(RE)};
\ergdeco{1-OD [RE]}{5µV}{50ms/Div}
\end{axis}

\end{tikzpicture}
\end{document}
